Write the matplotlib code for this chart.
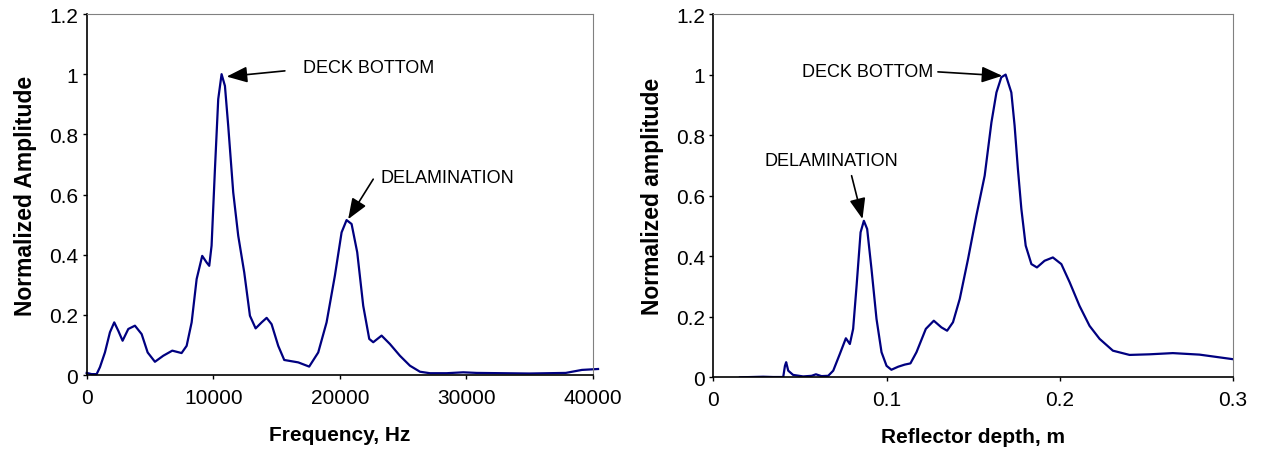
import matplotlib
matplotlib.use('Agg')
import matplotlib.pyplot as plt

plt.rcParams['font.family'] = ['Liberation Sans', 'DejaVu Sans']

# frequency spectrum (left panel)
freq = [0, 395, 790, 1050, 1445, 1840, 2180, 2500, 2840, 3290, 3815, 4345,
        4820, 5395, 6050, 6765, 7500, 7900, 8295, 8690, 9130, 9480, 9685,
        9870, 10135, 10395, 10660, 10925, 11185, 11580, 11975, 12450, 12900,
        13350, 13825, 14220, 14610, 15135, 15610, 16715, 17580, 18295,
        18955, 19610, 20140, 20535, 20930, 21375, 21850, 22325, 22640, 23300,
        23960, 24750, 25540, 26330, 27120, 28440, 29750, 30805, 34950, 37850,
        39130, 40400]
amp_f = [0.007, 0.003, 0.003, 0.026, 0.075, 0.142, 0.175, 0.147, 0.114, 0.153,
         0.164, 0.136, 0.075, 0.044, 0.064, 0.081, 0.073, 0.097, 0.175, 0.319,
         0.396, 0.374, 0.363, 0.43, 0.684, 0.917, 1.0, 0.961, 0.828, 0.607,
         0.463, 0.341, 0.197, 0.155, 0.175, 0.19, 0.169, 0.097, 0.05, 0.042,
         0.028, 0.075, 0.175, 0.33, 0.474, 0.515, 0.502, 0.408, 0.23, 0.12,
         0.109, 0.131, 0.103, 0.064, 0.031, 0.011, 0.006, 0.006, 0.009, 0.007,
         0.005, 0.007, 0.017, 0.02]

# reflector depth (right panel)
depth = [0.0153, 0.0287, 0.0345, 0.0403, 0.0413, 0.042, 0.0432, 0.046, 0.0518,
         0.0567, 0.0592, 0.0624, 0.0663, 0.0692, 0.073, 0.0765, 0.0788, 0.0807,
         0.0827, 0.085, 0.0869, 0.0888, 0.0913, 0.0942, 0.0971, 0.1, 0.1028,
         0.1067, 0.1105, 0.1138, 0.1173, 0.1227, 0.1273, 0.1317, 0.135, 0.1384,
         0.1423, 0.1471, 0.1519, 0.1567, 0.1606, 0.1635, 0.1663, 0.1688, 0.1721,
         0.174, 0.1759, 0.1779, 0.1804, 0.1837, 0.1869, 0.1913, 0.1961, 0.201,
         0.2058, 0.2115, 0.2173, 0.2231, 0.2308, 0.2404, 0.2519, 0.2654, 0.2808,
         0.3]
amp_d = [0.0, 0.002, 0.001, 0.001, 0.038, 0.05, 0.022, 0.008, 0.003,
         0.005, 0.01, 0.004, 0.005, 0.022, 0.077, 0.129, 0.11, 0.16,
         0.303, 0.479, 0.517, 0.49, 0.358, 0.193, 0.083, 0.038, 0.025,
         0.035, 0.042, 0.046, 0.083, 0.16, 0.187, 0.165, 0.154, 0.182,
         0.259, 0.391, 0.534, 0.666, 0.842, 0.941, 0.991, 1.0, 0.941,
         0.831, 0.688, 0.556, 0.435, 0.374, 0.363, 0.385, 0.396, 0.374,
         0.314, 0.236, 0.17, 0.127, 0.088, 0.074, 0.076, 0.08, 0.075,
         0.06]

yticks = [0, 0.2, 0.4, 0.6, 0.8, 1, 1.2]
ytick_labels = ['0', '0.2', '0.4', '0.6', '0.8', '1', '1.2']

line_col = '#000080'
arrow = dict(arrowstyle='-|>,head_length=0.9,head_width=0.35', color='k',
             lw=1.2, mutation_scale=14, shrinkA=0, shrinkB=0)

def style_axes(ax):
    for s in ['left', 'bottom']:
        ax.spines[s].set_color('k')
        ax.spines[s].set_linewidth(1.2)
    for s in ['top', 'right']:
        ax.spines[s].set_color('#808080')
        ax.spines[s].set_linewidth(0.8)
    ax.set_yticks(yticks)
    ax.set_yticklabels(ytick_labels)
    ax.set_ylim(0, 1.2)
    ax.tick_params(axis='both', direction='out', length=3, width=1, labelsize=15)
    ax.tick_params(axis='x', pad=6)
    ax.tick_params(axis='y', pad=3)

fig = plt.figure(figsize=(12.63, 4.52), dpi=100)
ax1 = fig.add_axes([0.0686, 0.1681, 0.4009, 0.7987])
ax2 = fig.add_axes([0.5649, 0.1630, 0.4111, 0.8037])

# left: spectrum
ax1.plot(freq, amp_f, color=line_col, lw=1.6, clip_on=False)
ax1.set_xlim(0, 40000)
ax1.set_xticks([0, 10000, 20000, 30000, 40000])
style_axes(ax1)
ax1.set_xlabel('Frequency, Hz', fontsize=15, fontweight='bold', labelpad=13)
ax1.set_ylabel('Normalized Amplitude', fontsize=16.5, fontweight='bold', labelpad=9)
ax1.annotate('', xy=(11060, 0.992), xytext=(15660, 1.011), arrowprops=arrow)
ax1.text(17100, 1.022, 'DECK BOTTOM', fontsize=13, va='center', ha='left')
ax1.annotate('', xy=(20660, 0.518), xytext=(22640, 0.651), arrowprops=arrow)
ax1.text(23215, 0.657, 'DELAMINATION', fontsize=13, va='center', ha='left')

# right: depth
ax2.plot(depth, amp_d, color=line_col, lw=1.6)
ax2.set_xlim(0, 0.3)
ax2.set_xticks([0, 0.1, 0.2, 0.3])
ax2.set_xticklabels(['0', '0.1', '0.2', '0.3'])
style_axes(ax2)
ax2.set_xlabel('Reflector depth, m', fontsize=15, fontweight='bold', labelpad=13)
ax2.set_ylabel('Normalized amplitude', fontsize=16.5, fontweight='bold', labelpad=9)
ax2.annotate('', xy=(0.1669, 0.996), xytext=(0.1297, 1.009), arrowprops=arrow)
ax2.text(0.1269, 1.009, 'DECK BOTTOM', fontsize=13, va='center', ha='right')
ax2.annotate('', xy=(0.0861, 0.523), xytext=(0.0798, 0.666), arrowprops=arrow)
ax2.text(0.1067, 0.715, 'DELAMINATION', fontsize=13, va='center', ha='right')

fig.savefig('out.png', dpi=100)
